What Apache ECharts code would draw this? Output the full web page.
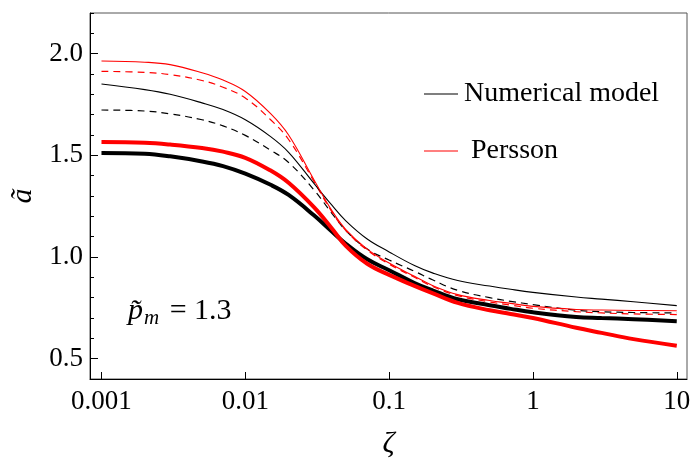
<!DOCTYPE html>
<html>
<head>
<meta charset="utf-8">
<title>ã vs ζ</title>
<script src="https://cdn.jsdelivr.net/npm/echarts@6/dist/echarts.min.js"></script>
<style>
  html, body { margin: 0; padding: 0; background: #fff; }
  #chart { width: 696px; height: 468px; }
</style>
</head>
<body>
<div id="chart"></div>
<script>
// Sample points along ζ (log scale)
const zeta = [0.001, 0.002, 0.003, 0.005, 0.007, 0.01, 0.015, 0.02, 0.03, 0.04, 0.05, 0.07,
              0.1, 0.15, 0.2, 0.3, 0.5, 0.7, 1, 2, 3, 5, 10];

// Numerical model (black) and Persson (red) curves
const numThick   = [1.512, 1.508, 1.495, 1.470, 1.447, 1.410, 1.355, 1.305, 1.205, 1.125, 1.065, 0.990,
                    0.935, 0.872, 0.836, 0.792, 0.763, 0.745, 0.728, 0.705, 0.700, 0.694, 0.684];
const perThick   = [1.566, 1.562, 1.553, 1.536, 1.518, 1.488, 1.425, 1.365, 1.245, 1.140, 1.055, 0.968,
                    0.912, 0.858, 0.822, 0.774, 0.738, 0.720, 0.700, 0.652, 0.627, 0.596, 0.564];
const numThin    = [1.851, 1.823, 1.800, 1.758, 1.725, 1.675, 1.592, 1.515, 1.362, 1.255, 1.178, 1.090,
                    1.025, 0.958, 0.922, 0.884, 0.857, 0.841, 0.826, 0.803, 0.793, 0.780, 0.761];
const perThin    = [1.964, 1.958, 1.946, 1.906, 1.870, 1.814, 1.705, 1.600, 1.380, 1.228, 1.135, 1.040,
                    0.970, 0.905, 0.860, 0.815, 0.786, 0.772, 0.757, 0.742, 0.739, 0.737, 0.736];
const numDashed  = [1.723, 1.718, 1.704, 1.675, 1.645, 1.598, 1.525, 1.465, 1.330, 1.215, 1.130, 1.040,
                    0.985, 0.930, 0.888, 0.836, 0.800, 0.782, 0.766, 0.738, 0.731, 0.727, 0.725];
const perDashed  = [1.913, 1.908, 1.897, 1.868, 1.835, 1.782, 1.675, 1.578, 1.372, 1.222, 1.130, 1.035,
                    0.965, 0.900, 0.855, 0.810, 0.779, 0.763, 0.748, 0.731, 0.725, 0.720, 0.717];

// Axis ticks
const xTicks = [0.001, 0.01, 0.1, 1, 10];
const yMajor = [0.5, 1.0, 1.5, 2.0];
const yMinor = [0.4, 0.5, 0.6, 0.7, 0.8, 0.9, 1.0, 1.1, 1.2, 1.3, 1.4, 1.5, 1.6, 1.7, 1.8, 1.9, 2.0, 2.1, 2.2];

const FONT = 'Liberation Serif';
const pairs = ys => zeta.map((z, i) => [z, ys[i]]);

function curve(name, ys, color, width, type) {
  return {
    name: name,
    type: 'line',
    data: pairs(ys),
    smooth: 0.4,
    symbol: 'none',
    showSymbol: false,
    itemStyle: { color: color },
    lineStyle: { color: color, width: width, type: type },
    emphasis: { disabled: true },
    animation: false
  };
}

const chart = echarts.init(document.getElementById('chart'), null, { renderer: 'canvas' });

chart.setOption({
  backgroundColor: '#ffffff',
  animation: false,
  grid: {
    left: 88, right: 9, top: 13, bottom: 89,
    show: true, borderColor: '#555', borderWidth: 1, backgroundColor: 'transparent'
  },
  legend: {
    orient: 'vertical',
    left: 419, top: 75,
    itemWidth: 34, itemHeight: 1.2,
    itemGap: 29,
    icon: 'rect',
    selectedMode: false,
    data: [
      { name: 'Numerical model', itemStyle: { color: '#000' } },
      { name: 'Persson', itemStyle: { color: '#ff0000' } }
    ],
    formatter: n => (n === 'Persson' ? ' ' + n : n),
    textStyle: { fontFamily: FONT, fontSize: 28, color: '#000', padding: [0, 0, 0, 1], lineHeight: 28 }
  },
  xAxis: {
    type: 'log',
    logBase: 10,
    min: 0.000832,
    max: 11.78,
    name: 'ζ',
    nameLocation: 'middle',
    nameGap: 50,
    nameTextStyle: { fontFamily: FONT, fontStyle: 'italic', fontSize: 30, color: '#000' },
    axisLine: { show: true, lineStyle: { color: '#000', width: 1 } },
    axisTick: { show: true, inside: true, length: 7, customValues: xTicks, lineStyle: { color: '#000' } },
    axisLabel: {
      customValues: xTicks,
      margin: 9,
      fontFamily: FONT, fontSize: 27, color: '#000',
      formatter: v => String(Number(Number(v).toPrecision(2)))
    },
    minorTick: { show: false },
    splitLine: { show: false }
  },
  yAxis: [
    {
      type: 'value',
      min: 0.4, max: 2.2,
      name: 'ã',
      nameLocation: 'middle',
      nameGap: 52,
      nameRotate: 90,
      nameTextStyle: { fontFamily: FONT, fontStyle: 'italic', fontSize: 30, color: '#000' },
      axisLine: { show: true, lineStyle: { color: '#000', width: 1 } },
      axisTick: { show: true, inside: true, length: 8, customValues: yMajor, lineStyle: { color: '#000' } },
      axisLabel: {
        customValues: yMajor,
        margin: 7,
        fontFamily: FONT, fontSize: 27, color: '#000',
        formatter: v => Number(v).toFixed(1)
      },
      splitLine: { show: false }
    },
    {
      type: 'value',
      min: 0.4, max: 2.2,
      position: 'left',
      axisLine: { show: false },
      axisTick: { show: true, inside: true, length: 4, customValues: yMinor, lineStyle: { color: '#000' } },
      axisLabel: { show: false },
      splitLine: { show: false }
    }
  ],
  graphic: [
    {
      type: 'text',
      left: 128, top: 296,
      silent: true,
      style: {
        text: '{p|p\u0303}{m|m}{r| = 1.3}',
        rich: {
          p: { fontFamily: FONT, fontStyle: 'italic', fontSize: 30, fill: '#000' },
          m: { fontFamily: FONT, fontStyle: 'italic', fontSize: 21, fill: '#000', verticalAlign: 'bottom', padding: [15, 0, 0, 1] },
          r: { fontFamily: FONT, fontSize: 30, fill: '#000', padding: [0, 0, 0, 3] }
        }
      }
    }
  ],
  series: [
    curve('Numerical model (bold)', numThick, '#000000', 4, 'solid'),
    curve('Persson (bold)', perThick, '#ff0000', 4, 'solid'),
    curve('Numerical model dashed', numDashed, '#000000', 1.2, [7, 5]),
    curve('Persson dashed', perDashed, '#ff0000', 1.2, [7, 5]),
    curve('Numerical model', numThin, '#000000', 1.1, 'solid'),
    curve('Persson', perThin, '#ff0000', 1.1, 'solid')
  ]
});
</script>
</body>
</html>
